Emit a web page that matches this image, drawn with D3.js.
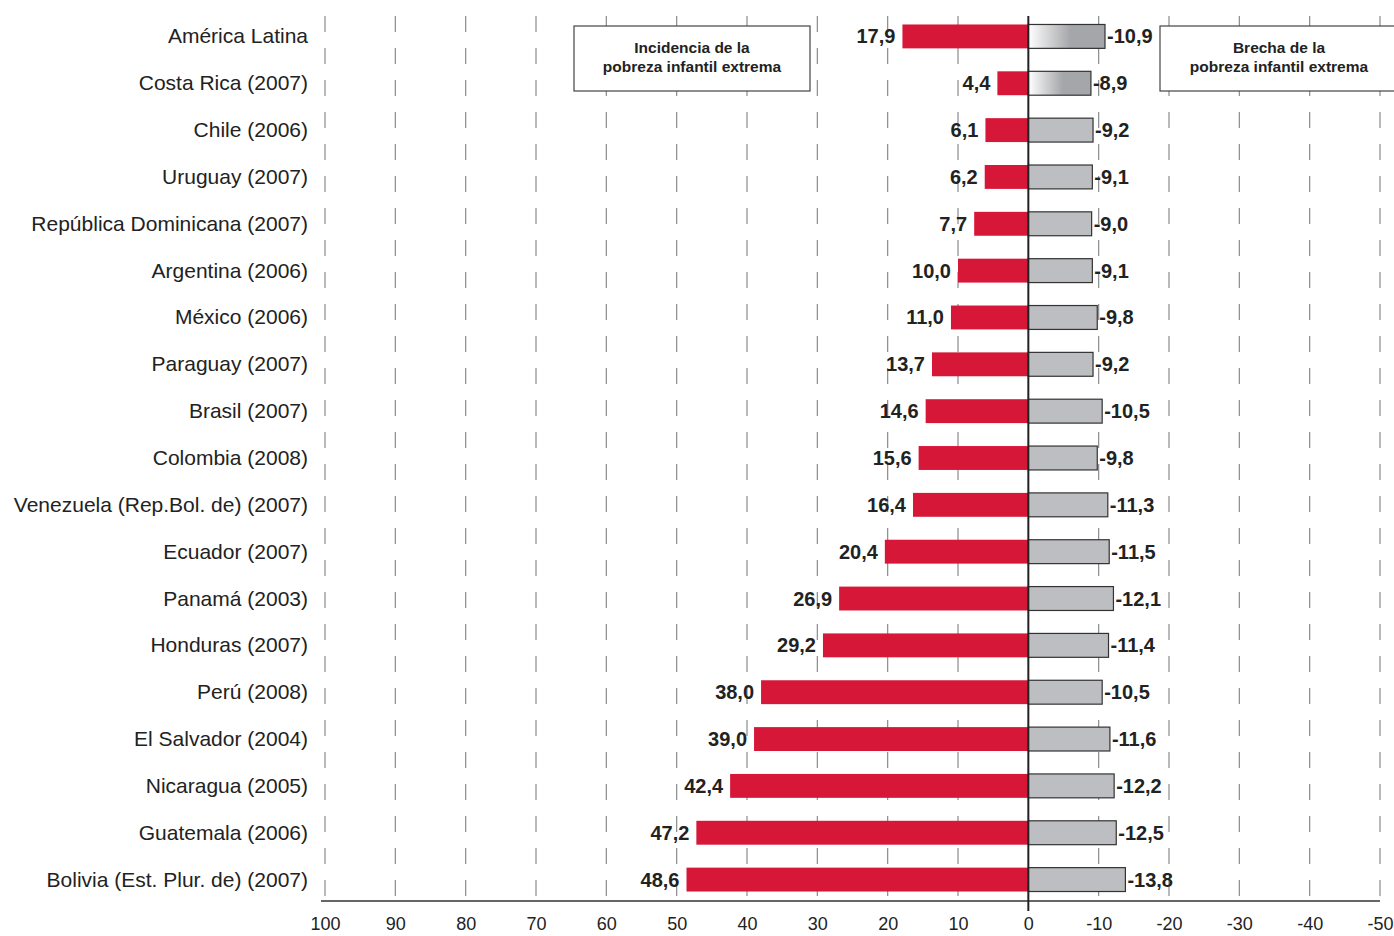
<!DOCTYPE html>
<html>
<head>
<meta charset="utf-8">
<script src="https://cdn.jsdelivr.net/npm/d3@7"></script>
<style>
  body { margin: 0; background: #fff; }
  text { font-family: "Liberation Sans", Arial, sans-serif; }
</style>
</head>
<body>
<script>
// data
var countries = ["América Latina", "Costa Rica (2007)", "Chile (2006)", "Uruguay (2007)",
  "República Dominicana (2007)", "Argentina (2006)", "México (2006)", "Paraguay (2007)",
  "Brasil (2007)", "Colombia (2008)", "Venezuela (Rep.Bol. de) (2007)", "Ecuador (2007)",
  "Panamá (2003)", "Honduras (2007)", "Perú (2008)", "El Salvador (2004)",
  "Nicaragua (2005)", "Guatemala (2006)", "Bolivia (Est. Plur. de) (2007)"];
var incidencia = [17.9, 4.4, 6.1, 6.2, 7.7, 10.0, 11.0, 13.7, 14.6, 15.6, 16.4, 20.4, 26.9, 29.2, 38.0, 39.0, 42.4, 47.2, 48.6];
var brecha = [-10.9, -8.9, -9.2, -9.1, -9.0, -9.1, -9.8, -9.2, -10.5, -9.8, -11.3, -11.5, -12.1, -11.4, -10.5, -11.6, -12.2, -12.5, -13.8];
var tickValues = [100, 90, 80, 70, 60, 50, 40, 30, 20, 10, 0, -10, -20, -30, -40, -50];
var legendLeft = ["Incidencia de la", "pobreza infantil extrema"];
var legendRight = ["Brecha de la", "pobreza infantil extrema"];

var width = 1394, height = 936;
var baseY = 901;

var svg = d3.select("body").append("svg")
  .attr("width", width)
  .attr("height", height);

var defs = svg.append("defs");
var grad = defs.append("linearGradient").attr("id", "fade");
grad.append("stop").attr("offset", "0%").attr("stop-color", "#ffffff");
grad.append("stop").attr("offset", "55%").attr("stop-color", "#a5a6a9");
grad.append("stop").attr("offset", "100%").attr("stop-color", "#a5a6a9");

var x = d3.scaleLinear().domain([100, -50]).range([325, 1380]);
var y = d3.scaleBand().domain(countries).range([13, 903]).paddingInner(0.49).paddingOuter(0.245);

var rows = countries.map(function (c, i) {
  return { name: c, inc: incidencia[i], gap: brecha[i], i: i };
});

// dashed grid
svg.append("g").selectAll("line").data(tickValues.filter(d => d !== 0))
  .enter().append("line")
  .attr("x1", d => x(d)).attr("x2", d => x(d))
  .attr("y1", 16).attr("y2", baseY)
  .attr("stroke", "#8a8b8e")
  .attr("stroke-width", 1.2)
  .attr("stroke-dasharray", "16,16");

// legend boxes
function legend(x0, x1, lines) {
  var g = svg.append("g");
  g.append("rect").attr("x", x0).attr("y", 26).attr("width", x1 - x0).attr("height", 65)
    .attr("fill", "#fff").attr("stroke", "#444").attr("stroke-width", 1.2);
  g.selectAll("text").data(lines).enter().append("text")
    .attr("x", (x0 + x1) / 2)
    .attr("y", (d, i) => 53 + i * 19)
    .attr("text-anchor", "middle")
    .attr("font-size", "15.5px")
    .attr("font-weight", "bold")
    .attr("fill", "#222")
    .text(d => d);
}
legend(574, 810, legendLeft);
legend(1160, 1398, legendRight);

// bars
var bh = y.bandwidth();
svg.append("g").selectAll("rect").data(rows).enter().append("rect")
  .attr("x", d => x(d.inc)).attr("y", d => y(d.name))
  .attr("width", d => x(0) - x(d.inc)).attr("height", bh)
  .attr("fill", "#d71737");

svg.append("g").selectAll("rect").data(rows).enter().append("rect")
  .attr("x", x(0)).attr("y", d => y(d.name))
  .attr("width", d => x(d.gap) - x(0)).attr("height", bh)
  .attr("fill", d => d.i < 2 ? "url(#fade)" : "#bdbec1")
  .attr("stroke", "#333").attr("stroke-width", 1.2);

var fmt = v => v.toFixed(1).replace(".", ",");

svg.append("g").selectAll("text").data(rows).enter().append("text")
  .attr("x", d => x(d.inc) - 7)
  .attr("y", d => y(d.name) + bh / 2 + 7)
  .attr("text-anchor", "end")
  .attr("font-size", "20px").attr("font-weight", "bold").attr("fill", "#222")
  .text(d => fmt(d.inc));

svg.append("g").selectAll("text").data(rows).enter().append("text")
  .attr("x", d => x(d.gap) + 2)
  .attr("y", d => y(d.name) + bh / 2 + 7)
  .attr("font-size", "20px").attr("font-weight", "bold").attr("fill", "#222")
  .text(d => fmt(d.gap));

// country labels
svg.append("g").selectAll("text").data(countries).enter().append("text")
  .attr("x", 308)
  .attr("y", d => y(d) + bh / 2 + 7)
  .attr("text-anchor", "end")
  .attr("font-size", "21px").attr("fill", "#222")
  .text(d => d);

// bottom axis
var axis = d3.axisBottom(x).tickValues(tickValues).tickSize(0).tickPadding(16)
  .tickFormat(d => String(d));
var ax = svg.append("g").attr("transform", "translate(0," + baseY + ")").call(axis);
ax.select(".domain").attr("stroke", "#333").attr("stroke-width", 1.5)
  .attr("d", "M" + (x(100) - 4) + ",0H" + x(-50));
ax.selectAll("text").attr("font-size", "18px").attr("fill", "#222")
  .attr("font-family", "Liberation Sans, Arial, sans-serif");

// zero line
svg.append("line")
  .attr("x1", x(0)).attr("x2", x(0))
  .attr("y1", 16).attr("y2", 911)
  .attr("stroke", "#222").attr("stroke-width", 2);
</script>
</body>
</html>
